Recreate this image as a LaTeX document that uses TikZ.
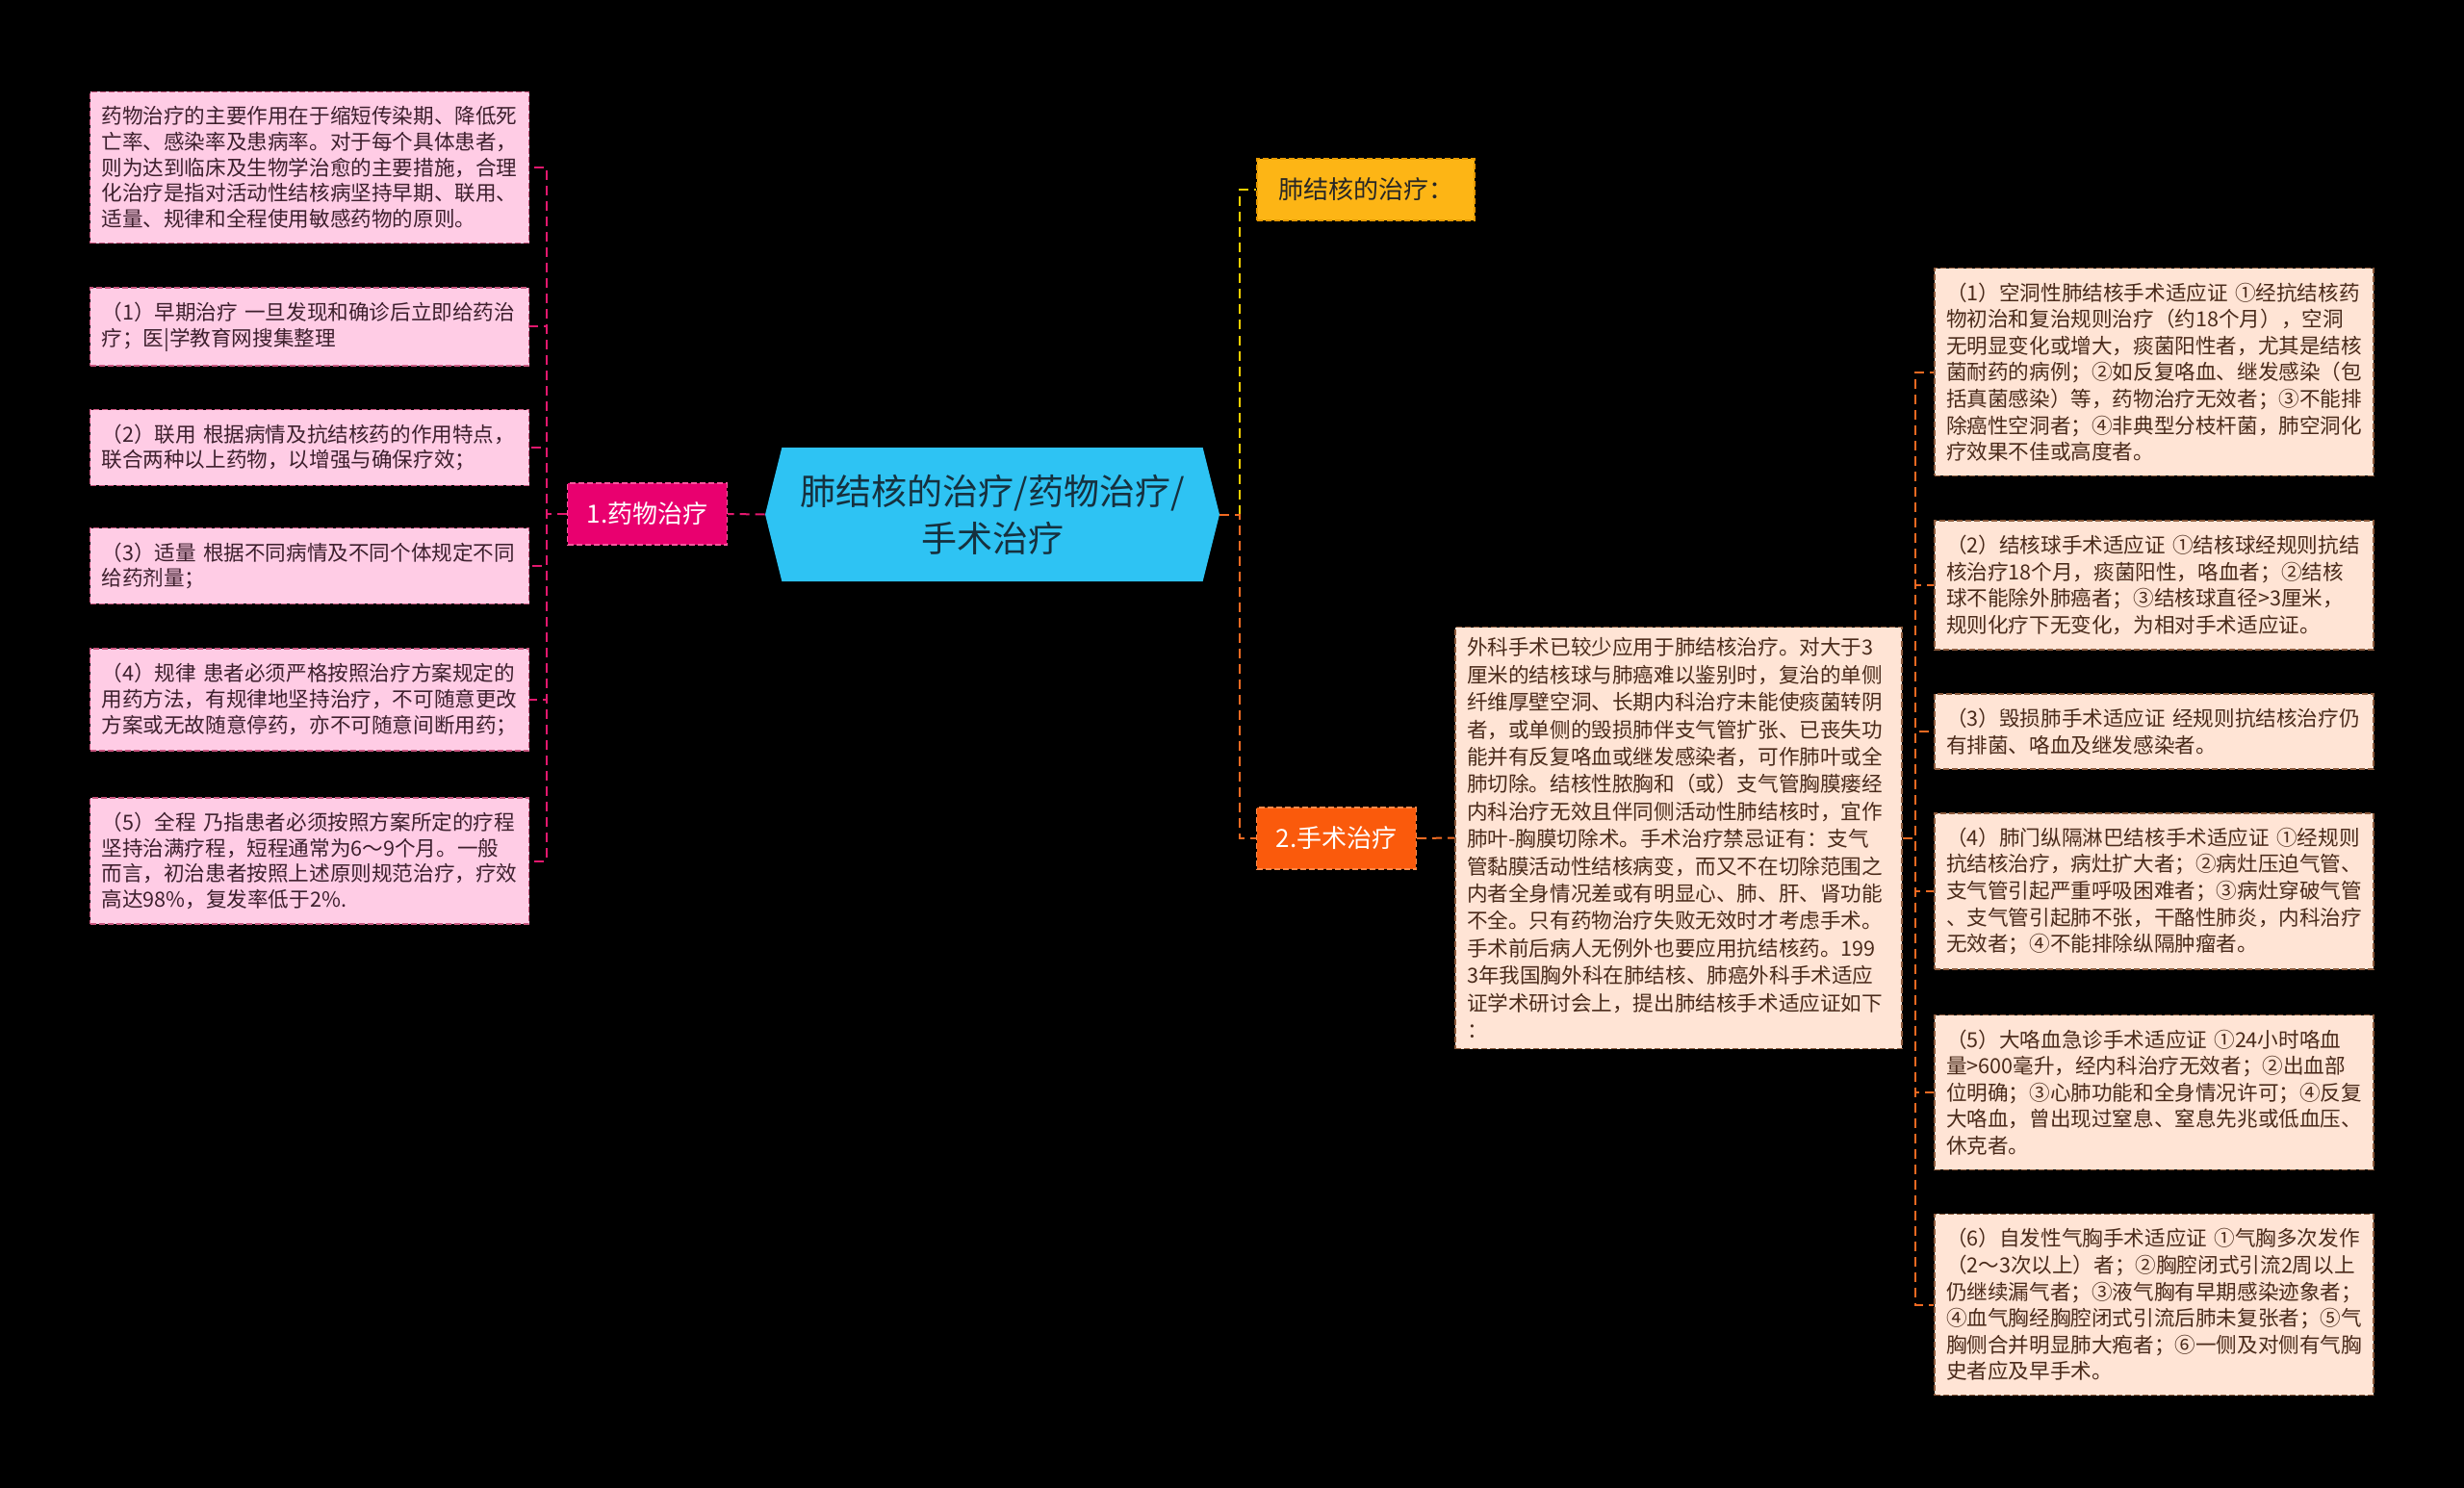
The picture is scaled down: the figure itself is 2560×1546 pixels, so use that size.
\documentclass[tikz,border=0pt]{standalone}
\usepackage{fontspec}
\setmainfont{Noto Sans CJK SC}
\usepackage{xcolor}
\usepackage{tikz}
\usetikzlibrary{positioning, shapes, calc}

\definecolor{rootblue}{HTML}{2EC3F3}
\definecolor{roottext}{HTML}{16303E}
\definecolor{drugpink}{HTML}{E9006F}
\definecolor{drugedge}{HTML}{F5579D}
\definecolor{boxpink}{HTML}{FFCCE5}
\definecolor{boxpinkedge}{HTML}{C9567F}
\definecolor{boxpinktext}{HTML}{3D1F2D}
\definecolor{linkpink}{HTML}{E2186E}
\definecolor{goldfill}{HTML}{FDB515}
\definecolor{goldedge}{HTML}{E89A00}
\definecolor{goldlink}{HTML}{F7CF00}
\definecolor{surgorange}{HTML}{FA5A0C}
\definecolor{surgedge}{HTML}{FF8A4A}
\definecolor{linkorange}{HTML}{F06A22}
\definecolor{peach}{HTML}{FFE4D5}
\definecolor{peachedge}{HTML}{8C5A3C}
\definecolor{peachtext}{HTML}{4A2A1A}

\begin{document}
\begin{tikzpicture}[x=0.5pt, y=-0.5pt,
    pinkbox/.style={draw=boxpinkedge, fill=boxpink, text=boxpinktext, dash pattern=on 3pt off 1.5pt,
      line width=0.8pt, text width=216pt, align=left, inner xsep=6pt, inner ysep=7.5pt,
      font=\fontsize{10.8}{13.4}\selectfont},
    peachbox/.style={pinkbox, draw=peachedge, fill=peach, text=peachtext,
      font=\fontsize{10.8}{13.8}\selectfont},
    topic/.style={dash pattern=on 3pt off 1.5pt, line width=0.8pt, minimum height=32pt,
      inner xsep=10pt, font=\fontsize{13}{15}\selectfont},
    pinklink/.style={draw=linkpink, line width=1pt, dash pattern=on 5pt off 3pt},
    goldline/.style={pinklink, draw=goldlink},
    orangeline/.style={pinklink, draw=linkorange}]
  \fill[black] (0,0) rectangle (2560,1546);
  \useasboundingbox (0,0) rectangle (2560,1546);

  % centre
  \node[shape=signal, signal to=east and west, signal pointer angle=152, fill=rootblue, text=roottext,
    minimum width=236pt, minimum height=69.5pt, align=center,
    font=\fontsize{18.5}{24.5}\selectfont] (root) at (1031,534.5) {肺结核的治疗/药物治疗/\\手术治疗};

  % left branch
  \node[topic, draw=drugedge, fill=drugpink, text=white] (drug) at (672.5,534) {1.药物治疗};
  \foreach \i/\y/\txt in {
      1/174/{药物治疗的主要作用在于缩短传染期、降低死\\亡率、感染率及患病率。对于每个具体患者，\\则为达到临床及生物学治愈的主要措施，合理\\化治疗是指对活动性结核病坚持早期、联用、\\适量、规律和全程使用敏感药物的原则。},
      2/339.5/{（1）早期治疗 一旦发现和确诊后立即给药治\\疗；医|学教育网搜集整理},
      3/465/{（2）联用 根据病情及抗结核药的作用特点，\\联合两种以上药物，以增强与确保疗效；},
      4/588/{（3）适量 根据不同病情及不同个体规定不同\\给药剂量；},
      5/727/{（4）规律 患者必须严格按照治疗方案规定的\\用药方法，有规律地坚持治疗，不可随意更改\\方案或无故随意停药，亦不可随意间断用药；},
      6/894.5/{（5）全程 乃指患者必须按照方案所定的疗程\\坚持治满疗程，短程通常为6～9个月。一般\\而言，初治患者按照上述原则规范治疗，疗效\\高达98\%，复发率低于2\%.}} {
    \node[pinkbox] (l\i) at (321.5,\y) {\txt};
  }

  % right branch
  \node[topic, draw=goldedge, fill=goldfill, text=black!85, inner xsep=11pt] (cure) at (1419,197) {肺结核的治疗：};
  \node[topic, draw=surgedge, fill=surgorange, text=white] (surg) at (1388.5,871) {2.手术治疗};
  \node[peachbox, text width=220pt, inner ysep=5.5pt, font=\fontsize{10.8}{14.2}\selectfont] (surgtxt) at (1744,870.5)
    {外科手术已较少应用于肺结核治疗。对大于3\\厘米的结核球与肺癌难以鉴别时，复治的单侧\\纤维厚壁空洞、长期内科治疗未能使痰菌转阴\\者，或单侧的毁损肺伴支气管扩张、已丧失功\\能并有反复咯血或继发感染者，可作肺叶或全\\肺切除。结核性脓胸和（或）支气管胸膜瘘经\\内科治疗无效且伴同侧活动性肺结核时，宜作\\肺叶-胸膜切除术。手术治疗禁忌证有：支气\\管黏膜活动性结核病变，而又不在切除范围之\\内者全身情况差或有明显心、肺、肝、肾功能\\不全。只有药物治疗失败无效时才考虑手术。\\手术前后病人无例外也要应用抗结核药。199\\3年我国胸外科在肺结核、肺癌外科手术适应\\证学术研讨会上，提出肺结核手术适应证如下\\：};
  \foreach \i/\y/\txt in {
      1/386.5/{（1）空洞性肺结核手术适应证 ①经抗结核药\\物初治和复治规则治疗（约18个月），空洞\\无明显变化或增大，痰菌阳性者，尤其是结核\\菌耐药的病例；②如反复咯血、继发感染（包\\括真菌感染）等，药物治疗无效者；③不能排\\除癌性空洞者；④非典型分枝杆菌，肺空洞化\\疗效果不佳或高度者。},
      2/608/{（2）结核球手术适应证 ①结核球经规则抗结\\核治疗18个月，痰菌阳性，咯血者；②结核\\球不能除外肺癌者；③结核球直径>3厘米，\\规则化疗下无变化，为相对手术适应证。},
      3/760/{（3）毁损肺手术适应证 经规则抗结核治疗仍\\有排菌、咯血及继发感染者。},
      4/926/{（4）肺门纵隔淋巴结核手术适应证 ①经规则\\抗结核治疗，病灶扩大者；②病灶压迫气管、\\支气管引起严重呼吸困难者；③病灶穿破气管\\、支气管引起肺不张，干酪性肺炎，内科治疗\\无效者；④不能排除纵隔肿瘤者。},
      5/1135/{（5）大咯血急诊手术适应证 ①24小时咯血\\量>600毫升，经内科治疗无效者；②出血部\\位明确；③心肺功能和全身情况许可；④反复\\大咯血，曾出现过窒息、窒息先兆或低血压、\\休克者。},
      6/1355.5/{（6）自发性气胸手术适应证 ①气胸多次发作\\（2～3次以上）者；②胸腔闭式引流2周以上\\仍继续漏气者；③液气胸有早期感染迹象者；\\④血气胸经胸腔闭式引流后肺未复张者；⑤气\\胸侧合并明显肺大疱者；⑥一侧及对侧有气胸\\史者应及早手术。}} {
    \node[peachbox] (r\i) at (2238,\y) {\txt};
  }

  % connectors
  \coordinate (lspine) at ($(drug.west)+(-21,0)$);
  \coordinate (rsplit) at ($(root.east)+(21,0)$);
  \coordinate (rspine) at ($(surgtxt.east)+(13,0)$);
  \draw[pinklink] (root.west) -- (drug.east);
  \foreach \i in {1,...,6}
    \draw[pinklink] (drug.west) -- (lspine) |- (l\i.east);
  \draw[goldline] (rsplit) |- (cure.west);
  \draw[orangeline] (root.east) -- (rsplit) |- (surg.west);
  \draw[orangeline] (surg.east) -- (surgtxt.west);
  \foreach \i in {1,...,6}
    \draw[orangeline] (surgtxt.east) -- (rspine) |- (r\i.west);
\end{tikzpicture}
\end{document}
